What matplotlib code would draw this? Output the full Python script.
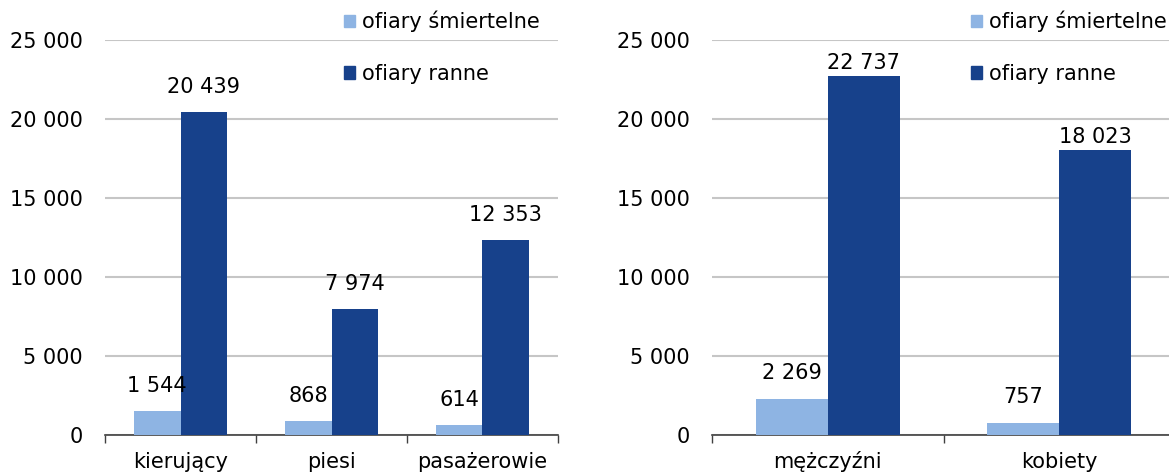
import matplotlib.pyplot as plt
import numpy as np
from matplotlib.patches import Patch

# data
cat_left = ["kierujący", "piesi", "pasażerowie"]
fatal_left = [1544, 868, 614]
injured_left = [20439, 7974, 12353]

cat_right = ["mężczyźni", "kobiety"]
fatal_right = [2269, 757]
injured_right = [22737, 18023]

series_names = ["ofiary śmiertelne", "ofiary ranne"]
yticks = [0, 5000, 10000, 15000, 20000, 25000]

LIGHT = "#8EB4E3"
DARK = "#17418B"
FS = 15

plt.rcParams['font.family'] = ['DejaVu Sans']

fig = plt.figure(figsize=(11.69, 4.75), dpi=100)
W, H = 1169, 475


def fmt(v):
    return f"{v:,}".replace(",", " ")


def panel(rect, cats, fatal, injured, off_fatal, off_injured, leg_xy):
    ax = fig.add_axes(rect)
    x = np.arange(len(cats))
    bw = 0.31
    b1 = ax.bar(x - bw / 2, fatal, bw, color=LIGHT, zorder=3)
    b2 = ax.bar(x + bw / 2, injured, bw, color=DARK, zorder=3)
    for bars, vals, off in ((b1, fatal, off_fatal), (b2, injured, off_injured)):
        for b, v in zip(bars, vals):
            ax.annotate(fmt(v), (b.get_x() + b.get_width() / 2, v),
                        xytext=(0, off), textcoords='offset pixels',
                        ha='center', va='bottom', fontsize=FS, zorder=5)
    ax.set_ylim(0, 25000)
    ax.set_xlim(-0.5, len(cats) - 0.5)
    ax.set_yticks(yticks)
    ax.set_yticklabels([fmt(v) for v in yticks], fontsize=FS)
    ax.tick_params(axis='y', length=0, pad=16)
    ax.yaxis.grid(True, color='#C6C6C6', linewidth=1.5, zorder=0)
    ax.set_axisbelow(True)
    ax.set_xticks(x)
    ax.set_xticklabels(cats, fontsize=FS, va='baseline')
    ax.set_xticks(np.arange(len(cats) + 1) - 0.5, minor=True)
    ax.tick_params(axis='x', which='major', length=0, pad=24)
    ax.tick_params(axis='x', which='minor', length=6, width=1, color='#404040')
    for s in ('top', 'right', 'left'):
        ax.spines[s].set_visible(False)
    ax.spines['bottom'].set_color('#404040')
    ax.spines['bottom'].set_linewidth(1.2)
    handles = [Patch(color=LIGHT), Patch(color=DARK)]
    ax.legend(handles, series_names, loc='upper left',
              bbox_to_anchor=(leg_xy[0] / W, 1 - leg_xy[1] / H),
              bbox_transform=fig.transFigure, frameon=False, fontsize=FS,
              handlelength=0.55, handleheight=0.55, handletextpad=0.3,
              labelspacing=1.5, borderpad=0, borderaxespad=0)
    return ax


bottom = (H - 435) / H
height = (435 - 40) / H
panel([105 / W, bottom, 453 / W, height], cat_left, fatal_left, injured_left,
      15, 15, (344, 11))
panel([712 / W, bottom, 463 / W, height], cat_right, fatal_right, injured_right,
      16, 3, (971, 11))

fig.savefig("out.png", dpi=100)
